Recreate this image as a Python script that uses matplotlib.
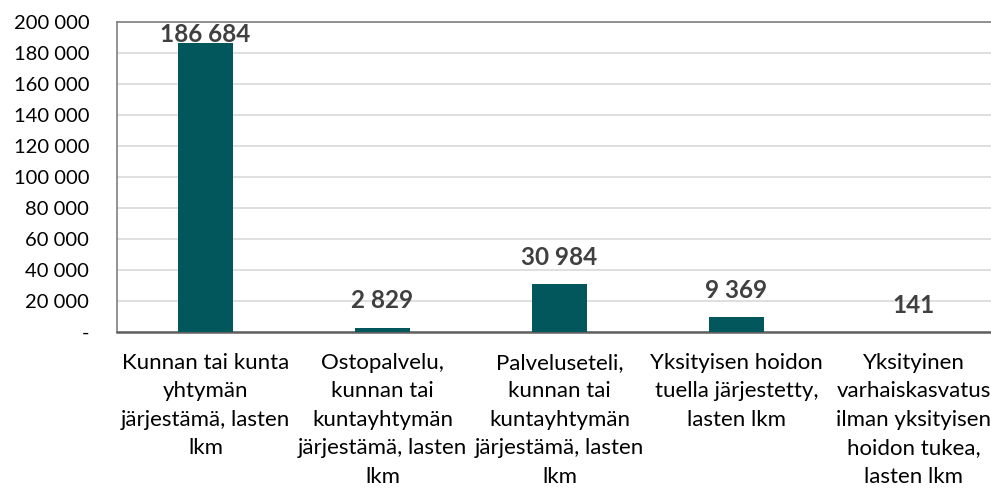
import matplotlib
matplotlib.use("Agg")
import matplotlib.pyplot as plt
from matplotlib.ticker import FuncFormatter, MultipleLocator

categories = [
    "Kunnan tai kunta\nyhtymän\njärjestämä, lasten\nlkm",
    "Ostopalvelu,\nkunnan tai\nkuntayhtymän\njärjestämä, lasten\nlkm",
    "Palveluseteli,\nkunnan tai\nkuntayhtymän\njärjestämä, lasten\nlkm",
    "Yksityisen hoidon\ntuella järjestetty,\nlasten lkm",
    "Yksityinen\nvarhaiskasvatus\nilman yksityisen\nhoidon tukea,\nlasten lkm",
]
values = [186684, 2829, 30984, 9369, 141]

plt.rcParams['font.family'] = ['Lato', 'DejaVu Sans']

fig = plt.figure(figsize=(9.91, 4.91), dpi=100)
ax = fig.add_axes([117/991, 1 - 332/491, 1 - 117/991, 310/491])

x = list(range(len(values)))
ax.bar(x, values, width=0.31, color="#02575C", zorder=3)

ymax = 200000
ax.set_ylim(0, ymax)
ax.set_xlim(-0.5, 4.5 - 11/177)
ax.yaxis.set_major_locator(MultipleLocator(20000))

def fmt(v, pos):
    if v == 0:
        return "-"
    return f"{int(v):,}".replace(",", " ")

ax.yaxis.set_major_formatter(FuncFormatter(fmt))
ax.grid(axis="y", color="#D9D9D9", linewidth=1.2, zorder=0)
ax.set_axisbelow(True)

for s in ["left", "top", "bottom", "right"]:
    ax.spines[s].set_color("#808080")
    ax.spines[s].set_linewidth(1.2)
ax.spines["bottom"].set_color("#606060")
ax.spines["bottom"].set_linewidth(1.8)
ax.spines["right"].set_visible(False)

ax.tick_params(axis="y", length=0, labelsize=14.5, pad=20, labelcolor="#000000")
ax.tick_params(axis="x", length=0, labelsize=16, pad=15)
ax.set_xticks(x)
ax.set_xticklabels(categories, linespacing=1.53)

for xi, v in zip(x, values):
    label = f"{v:,}".replace(",", " ")
    if v > 0.85 * ymax:
        ax.annotate(label, (xi, ymax), xytext=(0, -1),
                    textcoords="offset points", ha="center", va="top",
                    fontsize=17.5, fontweight="bold", color="#404040", zorder=4)
    else:
        ax.annotate(label, (xi, v), xytext=(0, 11),
                    textcoords="offset points", ha="center", va="bottom",
                    fontsize=17.5, fontweight="bold", color="#404040", zorder=4)

fig.savefig("out.png", dpi=100)
